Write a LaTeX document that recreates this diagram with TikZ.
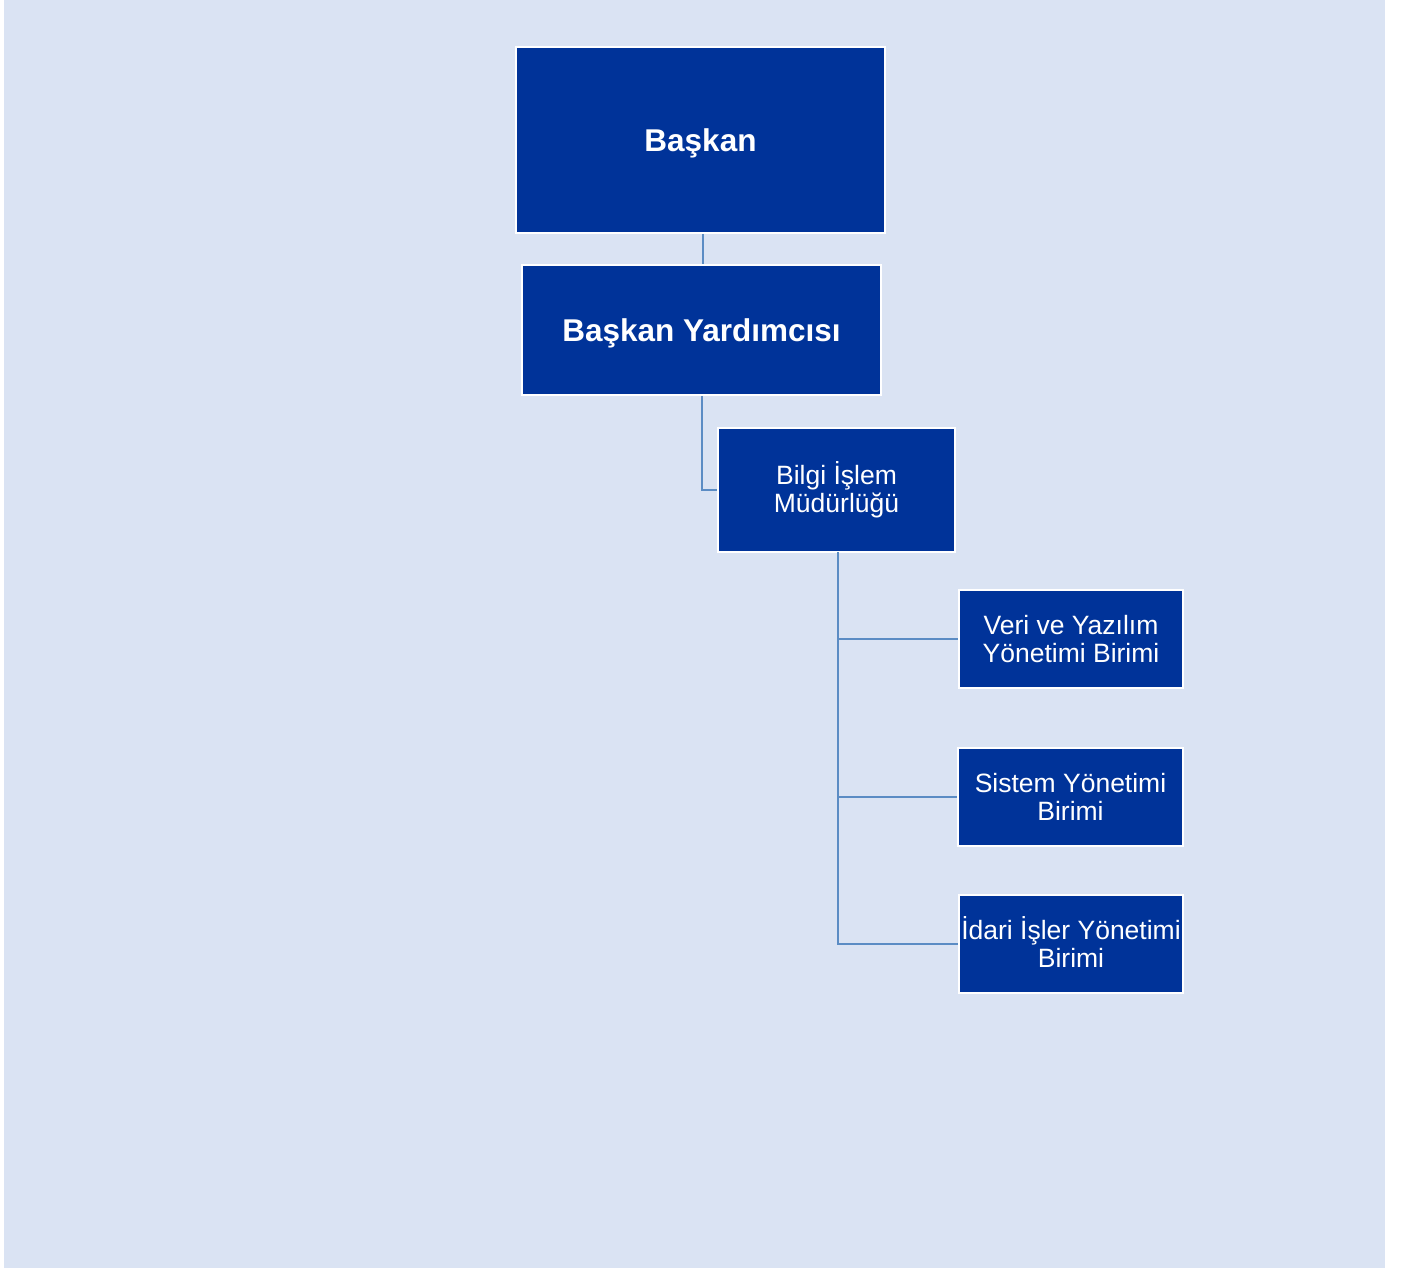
\documentclass[tikz,border=0pt]{standalone}
\usepackage{fontspec}
\setmainfont{Liberation Sans}
\definecolor{bgc}{HTML}{DAE3F3}
\definecolor{boxc}{HTML}{003399}
\definecolor{linec}{HTML}{5B8CC4}
\tikzset{
  unit/.style={draw=white, line width=1.8pt, fill=boxc, text=white, inner sep=0pt, align=center},
  bigtxt/.style={font=\fontsize{31.5}{34}\selectfont\bfseries, text height=23pt, text depth=0pt},
  smalltxt/.style={font=\fontsize{26.5}{28}\selectfont},
  link/.style={draw=linec, line width=2.4pt}
}
\begin{document}
\begin{tikzpicture}[x=1pt,y=-1pt]
\useasboundingbox (0,0) rectangle (1408,1268);
\fill[bgc] (4,0) rectangle (1385,1268);
\node[unit, bigtxt, minimum width=369pt, minimum height=186pt] (baskan) at (700.5,140) {Başkan};
\node[unit, bigtxt, minimum width=359pt, minimum height=130pt] (yard) at (701.5,330) {Başkan Yardımcısı};
\node[unit, smalltxt, minimum width=237pt, minimum height=124pt] (bilgi) at (836.5,490) {Bilgi İşlem\\Müdürlüğü};
\node[unit, smalltxt, minimum width=224pt, minimum height=98pt] (veri) at (1071,639) {Veri ve Yazılım\\Yönetimi Birimi};
\node[unit, smalltxt, minimum width=225pt, minimum height=98pt] (sistem) at (1070.5,797) {Sistem Yönetimi\\Birimi};
\node[unit, smalltxt, minimum width=224pt, minimum height=98pt] (idari) at (1071,944) {\smash{İ}dari \smash{İ}şler Yönetimi\\Birimi};
\coordinate (trunk) at (838,552);
\draw[link] (baskan.south -| 703,0) -- (yard.north -| 703,0);
\draw[link] (yard.south -| 702,0) |- (bilgi.west);
\draw[link] (trunk) |- (idari.west);
\draw[link] (trunk |- veri.west) -- (veri.west);
\draw[link] (trunk |- sistem.west) -- (sistem.west);
\end{tikzpicture}
\end{document}
